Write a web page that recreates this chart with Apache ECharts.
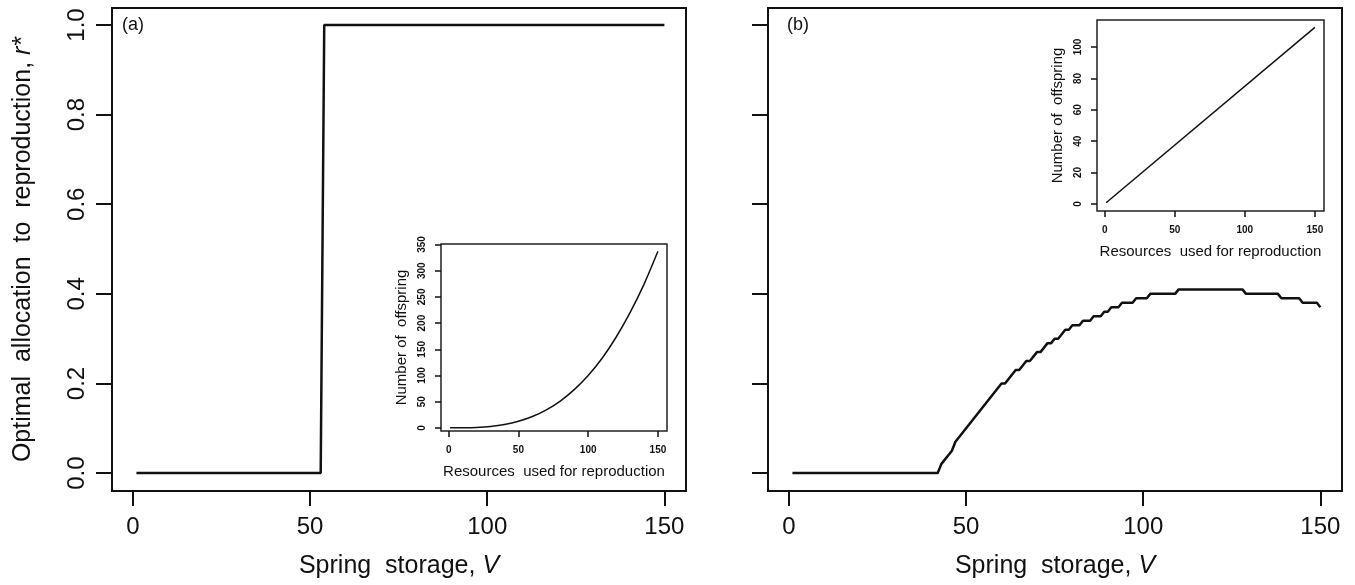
<!DOCTYPE html>
<html>
<head>
<meta charset="utf-8">
<script src="https://cdn.jsdelivr.net/npm/echarts@6/dist/echarts.min.js"></script>
<style>
  html, body { margin: 0; padding: 0; background: #fff; }
  #chart { width: 1355px; height: 585px; }
</style>
</head>
<body>
<div id="chart"></div>
<script>
// panel (a): optimal allocation vs spring storage
const storageA = [1, 53, 54, 150];
const allocA = [0, 0, 1, 1];

// panel (b): corners of the stepped curve
const storageB = [1, 42, 43, 44, 45, 46, 47, 60, 61, 64, 65, 67, 68, 70, 71, 73, 74, 75, 76, 78, 79, 80, 82, 83, 85,
  86, 88, 89, 90, 91, 93, 94, 97, 98, 101, 102, 109, 110, 128, 129, 138, 139, 144, 145, 149, 150];
const allocB = [0, 0, 0.02, 0.03, 0.04, 0.05, 0.07, 0.20, 0.20, 0.23, 0.23, 0.25, 0.25, 0.27, 0.27, 0.29, 0.29, 0.30, 0.30, 0.32, 0.32, 0.33, 0.33, 0.34, 0.34,
  0.35, 0.35, 0.36, 0.36, 0.37, 0.37, 0.38, 0.38, 0.39, 0.39, 0.40, 0.40, 0.41, 0.41, 0.40, 0.40, 0.39, 0.39, 0.38, 0.38, 0.37];

// inset (a): offspring vs resources (accelerating)
const resA = [1, 10, 20, 30, 40, 50, 60, 70, 80, 90, 100, 110, 120, 130, 140, 150];
const offA = [0, 0.1, 0.8, 2.7, 6.4, 12.5, 21.6, 34.3, 51.2, 72.9, 100, 133, 173, 220, 274, 337];

// inset (b): offspring vs resources (linear)
const resB = [1, 150];
const offB = [0.75, 112.5];

const mainXTicks = [0, 50, 100, 150];
const mainYTicks = [0, 0.2, 0.4, 0.6, 0.8, 1.0];
const insetXTicks = [0, 50, 100, 150];
const insetAYTicks = [0, 50, 100, 150, 200, 250, 300, 350];
const insetBYTicks = [0, 20, 40, 60, 80, 100];

const ink = '#111';
const font = '"Liberation Sans", Arial, sans-serif';

const chart = echarts.init(document.getElementById('chart'));

function zip(xs, ys) {
  return xs.map((x, i) => [x, ys[i]]);
}

function mainX(gridIndex) {
  return {
    gridIndex, type: 'value', min: -5.9, max: 156.1,
    axisLine: {show: false, onZero: false}, splitLine: {show: false},
    axisTick: {show: true, length: 15, customValues: mainXTicks, lineStyle: {color: ink, width: 2}},
    axisLabel: {customValues: mainXTicks, fontSize: 24, margin: 24, color: ink, fontFamily: font},
    name: 'Spring  storage, {i|V}', nameLocation: 'middle', nameGap: 63,
    nameTextStyle: {fontSize: 25, color: ink, fontFamily: font, rich: {i: {fontStyle: 'italic', fontSize: 25, color: ink, fontFamily: font}}}
  };
}

function mainY(gridIndex, withLabels) {
  const ax = {
    gridIndex, type: 'value', min: -0.04, max: 1.038,
    axisLine: {show: false, onZero: false}, splitLine: {show: false},
    axisTick: {show: true, length: 16, customValues: mainYTicks, lineStyle: {color: ink, width: 2}},
    axisLabel: {show: withLabels, customValues: mainYTicks, rotate: 90, fontSize: 24, margin: 23, color: ink, fontFamily: font,
      formatter: v => v.toFixed(1)}
  };
  if (withLabels) {
    ax.name = 'Optimal  allocation  to  reproduction, {i|r*}';
    ax.nameLocation = 'middle';
    ax.nameRotate = 90;
    ax.nameGap = 76;
    ax.nameTextStyle = {fontSize: 25, color: ink, fontFamily: font, rich: {i: {fontStyle: 'italic', fontSize: 25, color: ink, fontFamily: font}}};
  }
  return ax;
}

function insetX(gridIndex) {
  return {
    gridIndex, type: 'value', min: -5.5, max: 156.5,
    axisLine: {show: false, onZero: false}, splitLine: {show: false},
    axisTick: {show: true, length: 6, customValues: insetXTicks, lineStyle: {color: ink, width: 1.5}},
    axisLabel: {customValues: insetXTicks, fontSize: 10, fontWeight: 'bold', margin: 14, color: ink, fontFamily: font},
    name: 'Resources  used for reproduction', nameLocation: 'middle', nameGap: 33,
    nameTextStyle: {fontSize: 15, color: ink, fontFamily: font}
  };
}

function insetY(gridIndex, min, max, ticks) {
  return {
    gridIndex, type: 'value', min, max,
    axisLine: {show: false, onZero: false}, splitLine: {show: false},
    axisTick: {show: true, length: 6, customValues: ticks, lineStyle: {color: ink, width: 1.5}},
    axisLabel: {customValues: ticks, rotate: 90, fontSize: 10, fontWeight: 'bold', margin: 14, color: ink, fontFamily: font},
    name: 'Number of  offspring', nameLocation: 'middle', nameRotate: 90, nameGap: 32,
    nameTextStyle: {fontSize: 15, color: ink, fontFamily: font}
  };
}

const boxStyle = {show: true, borderColor: ink, borderWidth: 2, backgroundColor: '#fff'};
const insetBox = {show: true, borderColor: '#222', borderWidth: 1.5, backgroundColor: '#fff'};

const option = {
  animation: false,
  backgroundColor: '#fff',
  grid: [
    Object.assign({left: 112, top: 8, width: 574, height: 483}, boxStyle),
    Object.assign({left: 768, top: 8, width: 574, height: 483}, boxStyle),
    Object.assign({left: 441, top: 244, width: 226, height: 187}, insetBox),
    Object.assign({left: 1097, top: 20, width: 227, height: 191}, insetBox)
  ],
  xAxis: [mainX(0), mainX(1), insetX(2), insetX(3)],
  yAxis: [
    mainY(0, true),
    mainY(1, false),
    insetY(2, -6, 351, insetAYTicks),
    insetY(3, -4.5, 117.2, insetBYTicks)
  ],
  graphic: [
    {type: 'text', left: 122, top: 16, style: {text: '(a)', font: '18px ' + font, fill: ink}},
    {type: 'text', left: 787, top: 16, style: {text: '(b)', font: '18px ' + font, fill: ink}}
  ],
  series: [
    {type: 'line', xAxisIndex: 0, yAxisIndex: 0, data: zip(storageA, allocA), showSymbol: false,
      lineStyle: {color: ink, width: 2.5}},
    {type: 'line', xAxisIndex: 1, yAxisIndex: 1, data: zip(storageB, allocB), showSymbol: false,
      lineStyle: {color: ink, width: 2.5}},
    {type: 'line', xAxisIndex: 2, yAxisIndex: 2, data: zip(resA, offA), showSymbol: false, smooth: 0.3,
      lineStyle: {color: ink, width: 1.5}},
    {type: 'line', xAxisIndex: 3, yAxisIndex: 3, data: zip(resB, offB), showSymbol: false,
      lineStyle: {color: ink, width: 1.5}}
  ]
};

chart.setOption(option);
</script>
</body>
</html>
